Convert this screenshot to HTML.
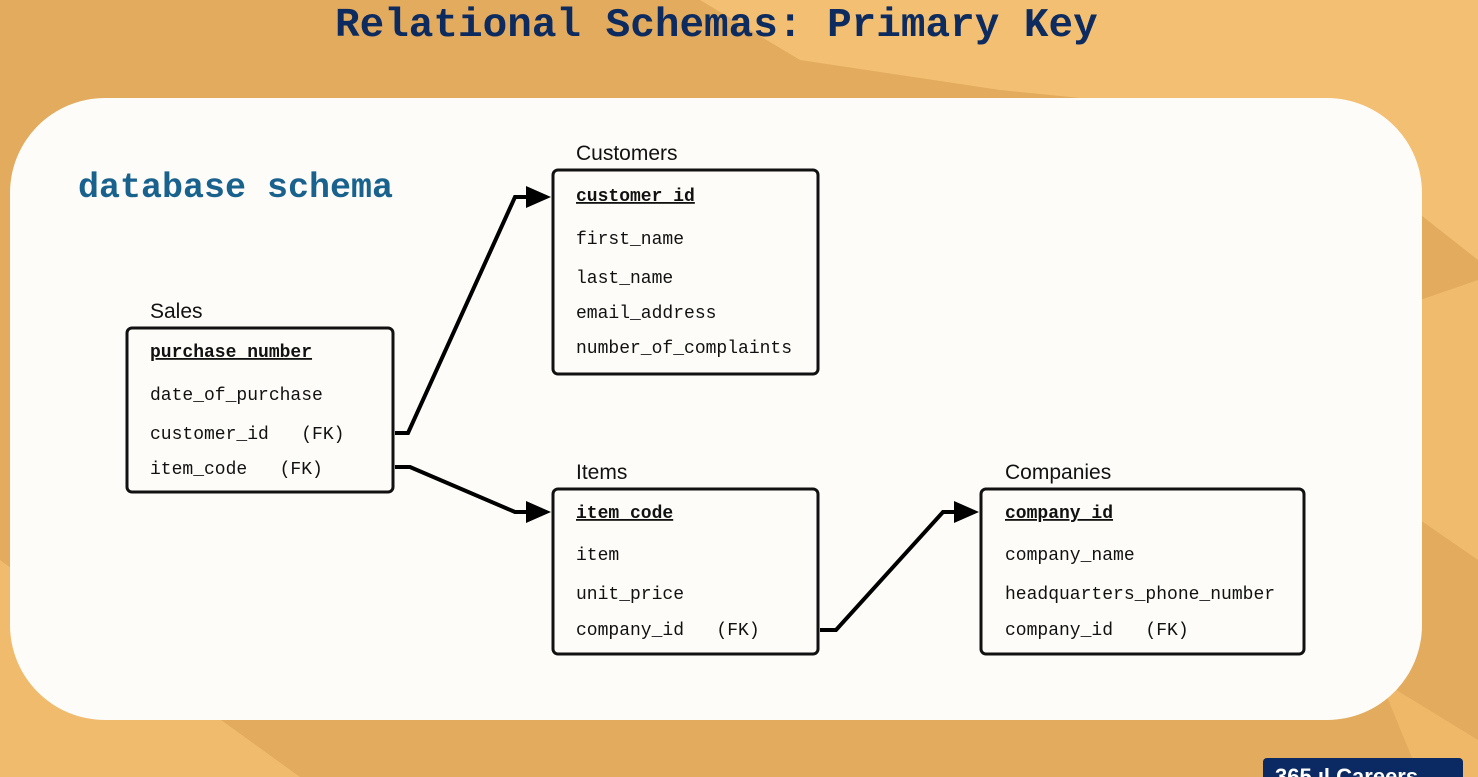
<!DOCTYPE html>
<html><head><meta charset="utf-8"><style>
html,body{margin:0;padding:0;width:1478px;height:777px;overflow:hidden;background:#e2ab5e}
svg{display:block}
.m{font-family:"Liberation Mono",monospace;font-size:18px;fill:#111}
.b{font-weight:bold;text-decoration:underline}
.l{font-family:"Liberation Sans",sans-serif;font-size:21px;fill:#111}
</style></head><body>
<svg width="1478" height="777" viewBox="0 0 1478 777">
<rect width="1478" height="777" fill="#e2ab5e"/>
<polygon points="700,0 1478,0 1478,260 1300,120 1000,90 800,60" fill="#f3bf72"/>
<polygon points="0,560 300,777 0,777" fill="#f0bb6c"/>
<polygon points="1380,680 1478,740 1478,777 1420,777" fill="#eeb868"/>
<polygon points="1420,300 1478,280 1478,560 1420,520" fill="#f0bb6c"/>
<rect x="10" y="98" width="1412" height="622" rx="95" ry="95" fill="#fdfcf8"/>
<text x="335" y="36" font-family="Liberation Mono,monospace" font-size="41" font-weight="bold" fill="#0d2b5e">Relational Schemas: Primary Key</text>
<text x="78" y="197" font-family="Liberation Mono,monospace" font-size="35" font-weight="bold" fill="#1a628e">database schema</text>
<g fill="none" stroke="#111" stroke-width="3">
<rect x="127" y="328" width="266" height="164" rx="5"/>
<rect x="553" y="170" width="265" height="204" rx="5"/>
<rect x="553" y="489" width="265" height="165" rx="5"/>
<rect x="981" y="489" width="323" height="165" rx="5"/>
</g>
<g fill="none" stroke="#000" stroke-width="4" stroke-linejoin="miter">
<polyline points="395,433 408,433 515,197 530,197"/>
<polyline points="395,467 410,467 515,512 530,512"/>
<polyline points="820,630 836,630 943,512 958,512"/>
</g>
<g fill="#000">
<polygon points="526,186 551,197 526,208"/>
<polygon points="526,501 551,512 526,523"/>
<polygon points="954,501 979,512 954,523"/>
</g>
<text class="l" x="150" y="318">Sales</text>
<text class="l" x="576" y="160">Customers</text>
<text class="l" x="576" y="479">Items</text>
<text class="l" x="1005" y="479">Companies</text>
<text class="m b" x="150" y="357">purchase_number</text>
<text class="m" x="150" y="400">date_of_purchase</text>
<text class="m" x="150" y="439" xml:space="preserve">customer_id   (FK)</text>
<text class="m" x="150" y="474" xml:space="preserve">item_code   (FK)</text>
<text class="m b" x="576" y="201">customer_id</text>
<text class="m" x="576" y="244">first_name</text>
<text class="m" x="576" y="283">last_name</text>
<text class="m" x="576" y="318">email_address</text>
<text class="m" x="576" y="353">number_of_complaints</text>
<text class="m b" x="576" y="518">item_code</text>
<text class="m" x="576" y="560">item</text>
<text class="m" x="576" y="599">unit_price</text>
<text class="m" x="576" y="635" xml:space="preserve">company_id   (FK)</text>
<text class="m b" x="1005" y="518">company_id</text>
<text class="m" x="1005" y="560">company_name</text>
<text class="m" x="1005" y="599">headquarters_phone_number</text>
<text class="m" x="1005" y="635" xml:space="preserve">company_id   (FK)</text>
<rect x="1263" y="758" width="200" height="30" rx="4" fill="#0b2a63"/>
<text x="1275" y="784" font-family="Liberation Sans,sans-serif" font-size="22" font-weight="bold" fill="#fff">365 ıl Careers</text>
</svg>
</body></html>
